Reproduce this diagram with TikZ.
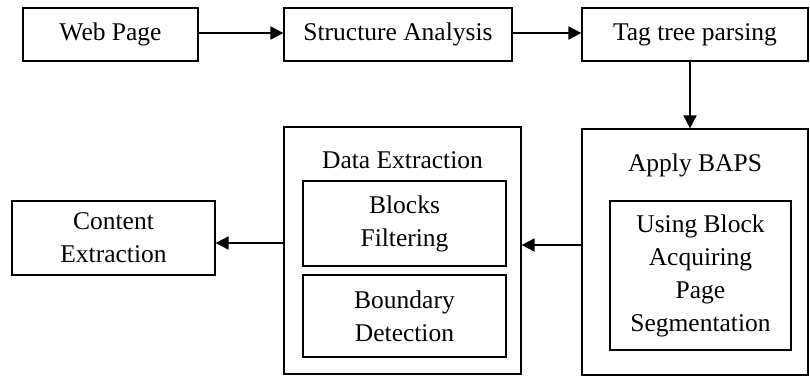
\documentclass[tikz,border=0pt]{standalone}
\usepackage{fontspec}
\setmainfont{Liberation Serif}
\usetikzlibrary{positioning,arrows.meta}

\begin{document}
\fontsize{25.5}{33}\selectfont
\begin{tikzpicture}[x=1pt, y=1pt,
		b/.style={draw, line width=1.2pt, align=center, inner sep=0pt},
		a/.style={-{Triangle[length=13pt, width=13pt]}, line width=1.8pt}]
		\useasboundingbox (0,0) rectangle (810,376);

		\node [b, minimum width=175, minimum height=53] (web) at (110.5,341.5) {Web Page};
		\node [b, minimum width=228, minimum height=53] (struct) at (398,341.5) {Structure Analysis};
		\node [b, minimum width=226, minimum height=53] (tag) at (695,341.5) {Tag tree parsing};

		\node [b, minimum width=226, minimum height=246] (baps) at (695,124) {};
		\node [below=17 of baps.north] (bapst) {Apply BAPS};
		\node [b, minimum width=181, minimum height=149] (bapsin) at (700.5,100.5)
			{Using Block\\Acquiring\\Page\\Segmentation};

		\node [b, minimum width=237, minimum height=247] (data) at (402.5,125.5) {};
		\node [below=17 of data.north] (datat) {Data Extraction};
		\node [b, minimum width=203, minimum height=85] (blocks) at (404.5,152.5) {Blocks\\Filtering};
		\node [b, minimum width=203, minimum height=82] (bound) at (404.5,60) {Boundary\\Detection};

		\node [b, minimum width=203, minimum height=74] (content) at (113.5,138) {Content\\Extraction};

		\path[a] ([yshift=1.5]web.east) edge ([yshift=1.5]struct.west);
		\path[a] ([yshift=1.5]struct.east) edge ([yshift=1.5]tag.west);
		\path[a] ([xshift=-5]tag.south) edge ([xshift=-5]baps.north);
		\path[a] ([yshift=7]baps.west) edge ([yshift=5.5]data.east);
		\path[a] ([yshift=7.5]data.west) edge ([yshift=-5]content.east);
	\end{tikzpicture}
\end{document}
